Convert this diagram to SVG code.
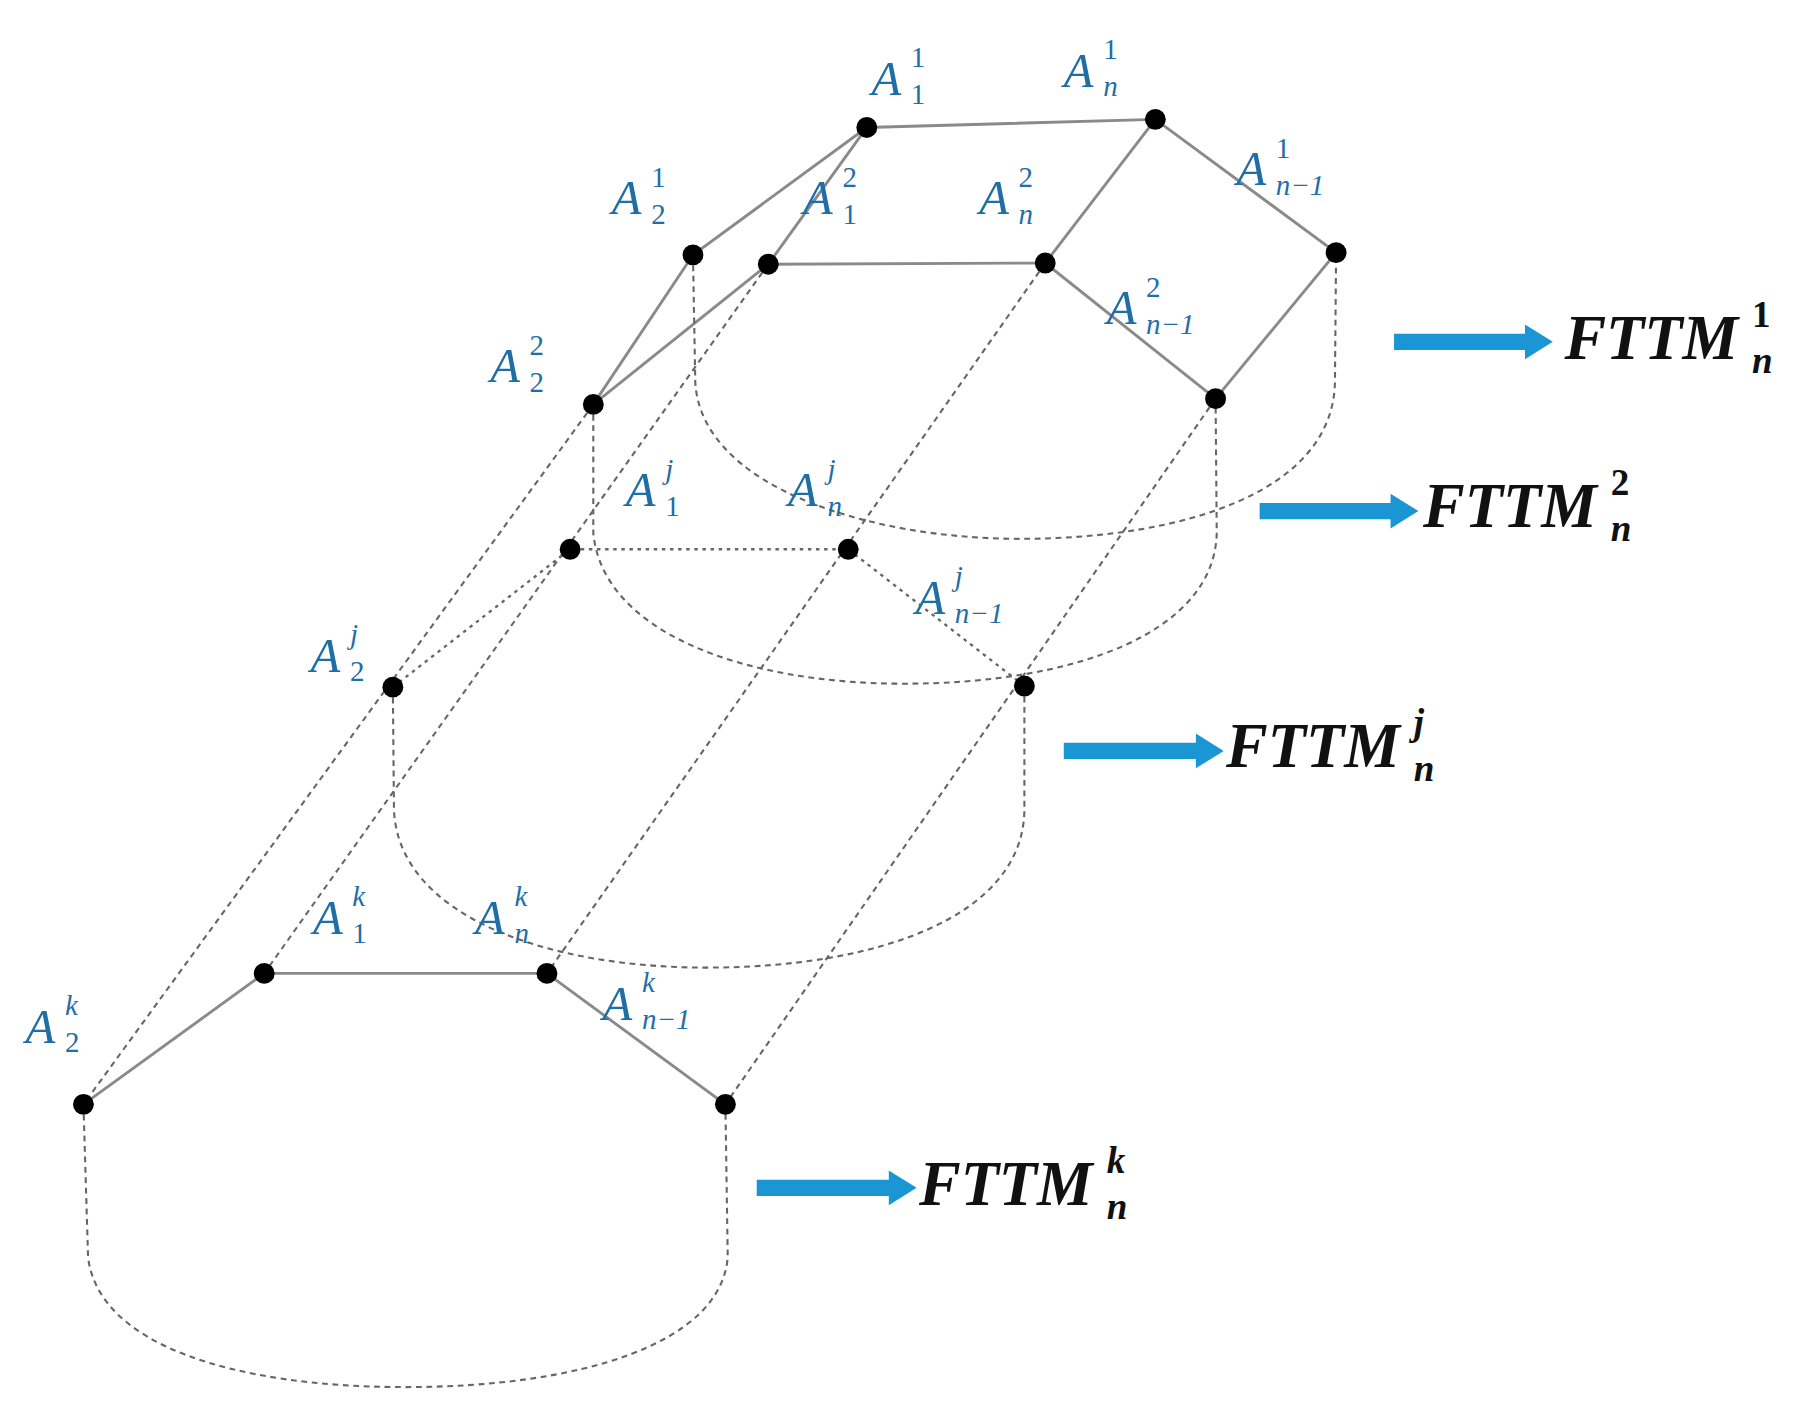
<svg xmlns="http://www.w3.org/2000/svg" width="1817" height="1417" viewBox="0 0 1817 1417">
<style>
.s{stroke:#8a8a8a;stroke-width:2.5;fill:none}
.d{stroke:#666;stroke-width:1.8;fill:none;stroke-dasharray:5 4}
.o{stroke:#666;stroke-width:2;fill:none;stroke-dasharray:3 4}
.n{fill:#000}
.l{font-family:"Liberation Serif",serif;font-style:italic;fill:#1f6ea6;font-size:42px}
.ls{font-family:"Liberation Serif",serif;fill:#1f6ea6;font-size:25px}
.it{font-style:italic}
.f{font-family:"Liberation Serif",serif;font-style:italic;font-weight:bold;fill:#111;font-size:54px}
.fs{font-family:"Liberation Serif",serif;font-weight:bold;fill:#111;font-size:32px}
.a{stroke:#1a96d4;stroke-width:14;fill:none}
.ah{fill:#1a96d4}
</style>
<rect width="1817" height="1417" fill="#fff"/>
<g transform="scale(1.1588)">
<g id="connectors">
<path class="s" d="M598,220 L748,110 L997,103 L1153,218 M997,103 L902,227 M1153,218 L1049,344 M748,110 L663,228 L902,227 L1049,344 M598,220 L512,349 L663,228"/>
<path class="s" d="M72,953 L228,840 L472,840 L626,953"/>
<path class="o" d="M339,593 L492,474 L732,474 L884,592"/>
<path class="d" d="M512,349 L72,953 M663,228 L228,840 M902,227 L472,840 M1049,344 L626,953"/>
<path class="d" d="M598,220 L600,330 C605,420 750,465 880,465 C1020,465 1150,425 1152,330 L1153,218"/>
<path class="d" d="M512,349 L512,460 C520,545 640,590 780,590 C930,590 1048,545 1050,460 L1049,344"/>
<path class="d" d="M339,593 L340,700 C345,790 470,835 610,835 C760,835 882,790 884,700 L884,592"/>
<path class="d" d="M72,953 L76,1085 C85,1160 200,1197 350,1197 C500,1197 622,1160 628,1085 L626,953"/>
</g>
<g id="arrows">
<line class="a" x1="1203" y1="295" x2="1320" y2="295"/><path class="ah" d="M1316,280 L1340,295 L1316,310Z"/>
<line class="a" x1="1087" y1="441" x2="1204" y2="441"/><path class="ah" d="M1200,426 L1224,441 L1200,456Z"/>
<line class="a" x1="918" y1="648" x2="1036" y2="648"/><path class="ah" d="M1032,633 L1056,648 L1032,663Z"/>
<line class="a" x1="653" y1="1025" x2="771" y2="1025"/><path class="ah" d="M767,1010 L791,1025 L767,1040Z"/>
</g>
<g id="nodes">
<g id="A11"><circle class="n" cx="748" cy="110" r="9"/><text class="l" x="752" y="82">A</text><text class="ls" x="786" y="58">1</text><text class="ls" x="786" y="90">1</text></g>
<g id="An1"><circle class="n" cx="997" cy="103" r="9"/><text class="l" x="918" y="75">A</text><text class="ls" x="952" y="51">1</text><text class="ls it" x="952" y="83">n</text></g>
<g id="Anm11"><circle class="n" cx="1153" cy="218" r="9"/><text class="l" x="1067" y="160">A</text><text class="ls" x="1101" y="136">1</text><text class="ls it" x="1101" y="168">n−1</text></g>
<g id="A21"><circle class="n" cx="598" cy="220" r="9"/><text class="l" x="528" y="185">A</text><text class="ls" x="562" y="161">1</text><text class="ls" x="562" y="193">2</text></g>
<g id="A12"><circle class="n" cx="663" cy="228" r="9"/><text class="l" x="693" y="185">A</text><text class="ls" x="727" y="161">2</text><text class="ls" x="727" y="193">1</text></g>
<g id="An2"><circle class="n" cx="902" cy="227" r="9"/><text class="l" x="845" y="185">A</text><text class="ls" x="879" y="161">2</text><text class="ls it" x="879" y="193">n</text></g>
<g id="Anm12"><circle class="n" cx="1049" cy="344" r="9"/><text class="l" x="955" y="280">A</text><text class="ls" x="989" y="256">2</text><text class="ls it" x="989" y="288">n−1</text></g>
<g id="A22"><circle class="n" cx="512" cy="349" r="9"/><text class="l" x="423" y="330">A</text><text class="ls" x="457" y="306">2</text><text class="ls" x="457" y="338">2</text></g>
<g id="A1j"><circle class="n" cx="492" cy="474" r="9"/><text class="l" x="540" y="437">A</text><text class="ls it" x="574" y="413">j</text><text class="ls" x="574" y="445">1</text></g>
<g id="Anj"><circle class="n" cx="732" cy="474" r="9"/><text class="l" x="680" y="437">A</text><text class="ls it" x="714" y="413">j</text><text class="ls it" x="714" y="445">n</text></g>
<g id="Anm1j"><circle class="n" cx="884" cy="592" r="9"/><text class="l" x="790" y="530">A</text><text class="ls it" x="824" y="506">j</text><text class="ls it" x="824" y="538">n−1</text></g>
<g id="A2j"><circle class="n" cx="339" cy="593" r="9"/><text class="l" x="268" y="580">A</text><text class="ls it" x="302" y="556">j</text><text class="ls" x="302" y="588">2</text></g>
<g id="A1k"><circle class="n" cx="228" cy="840" r="9"/><text class="l" x="270" y="806">A</text><text class="ls it" x="304" y="782">k</text><text class="ls" x="304" y="814">1</text></g>
<g id="Ank"><circle class="n" cx="472" cy="840" r="9"/><text class="l" x="410" y="806">A</text><text class="ls it" x="444" y="782">k</text><text class="ls it" x="444" y="814">n</text></g>
<g id="Anm1k"><circle class="n" cx="626" cy="953" r="9"/><text class="l" x="520" y="880">A</text><text class="ls it" x="554" y="856">k</text><text class="ls it" x="554" y="888">n−1</text></g>
<g id="A2k"><circle class="n" cx="72" cy="953" r="9"/><text class="l" x="22" y="900">A</text><text class="ls it" x="56" y="876">k</text><text class="ls" x="56" y="908">2</text></g>
</g>
<g id="labels">
<g id="F1"><text class="f" x="1350" y="310">FTTM</text><text class="fs" x="1512" y="282">1</text><text class="fs it" x="1512" y="322">n</text></g>
<g id="F2"><text class="f" x="1228" y="455">FTTM</text><text class="fs" x="1390" y="427">2</text><text class="fs it" x="1390" y="467">n</text></g>
<g id="Fj"><text class="f" x="1058" y="662">FTTM</text><text class="fs it" x="1220" y="634">j</text><text class="fs it" x="1220" y="674">n</text></g>
<g id="Fk"><text class="f" x="793" y="1040">FTTM</text><text class="fs it" x="955" y="1012">k</text><text class="fs it" x="955" y="1052">n</text></g>
</g>
</g>
</svg>
